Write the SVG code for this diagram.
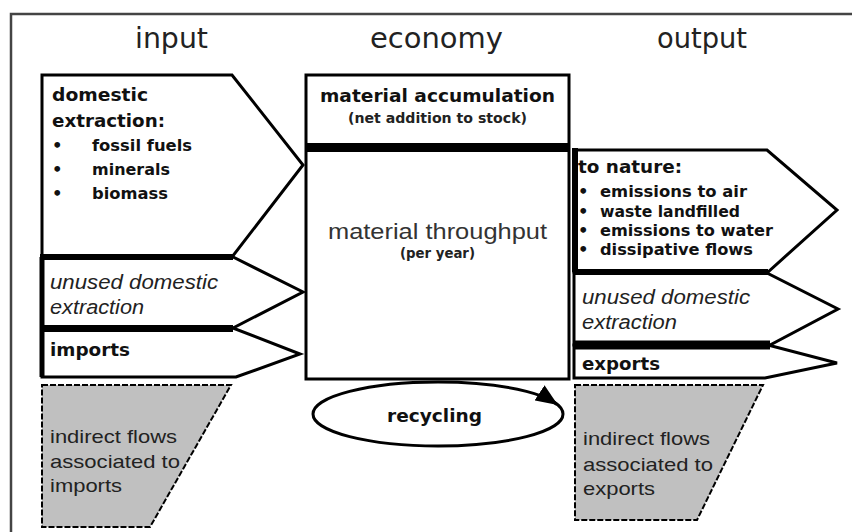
<svg xmlns="http://www.w3.org/2000/svg" width="852" height="532" viewBox="0 0 852 532">
<style>
.frame{stroke:#444;stroke-width:2.5;fill:none}
.box{fill:#fff;stroke:#000;stroke-width:3;stroke-linejoin:miter}
.sep{stroke:#000;fill:none}
.ind{fill:#c0c0c0;stroke:#000;stroke-width:2;stroke-dasharray:6 2}
.hd{font-family:"DejaVu Sans",Verdana,sans-serif;font-size:28px;fill:#222}
.b{font-family:"DejaVu Sans",Verdana,sans-serif;font-weight:bold;font-size:18.5px;fill:#111}
.bs{font-family:"DejaVu Sans",Verdana,sans-serif;font-weight:bold;font-size:16.4px;fill:#111}
.bx{font-family:"DejaVu Sans",Verdana,sans-serif;font-weight:bold;font-size:13.5px;fill:#222}
.it{font-family:"Liberation Sans",Arial,sans-serif;font-style:italic;font-size:20px;fill:#222}
.rg{font-family:"Liberation Sans",Arial,sans-serif;font-size:19px;fill:#222}
.big{font-family:"Liberation Sans",Arial,sans-serif;font-size:22.5px;fill:#333}
</style>
<defs>
<marker id="ah" viewBox="0 0 22 18" refX="21" refY="9" markerWidth="22" markerHeight="18" markerUnits="userSpaceOnUse" orient="auto">
<path d="M0,0 L22,9 L0,18 Z" fill="#000"/>
</marker>
</defs>
<g id="frame">
<path class="frame" d="M11,532 L11,14 L852,14"/>
</g>
<g id="headers">
<text class="hd" x="135" y="48" textLength="73" lengthAdjust="spacingAndGlyphs">input</text>
<text class="hd" x="370" y="48" textLength="133" lengthAdjust="spacingAndGlyphs">economy</text>
<text class="hd" x="657" y="48" textLength="90" lengthAdjust="spacingAndGlyphs">output</text>
</g>
<g id="domestic-extraction">
<polygon class="box" points="42,75 232,75 303,165 232,257 42,257"/>
<text class="b" x="52" y="101" textLength="96" lengthAdjust="spacingAndGlyphs">domestic</text>
<text class="b" x="52" y="127" textLength="113" lengthAdjust="spacingAndGlyphs">extraction:</text>
<text class="bs" x="52" y="151">•</text>
<text class="bs" x="92" y="151" textLength="100" lengthAdjust="spacingAndGlyphs">fossil fuels</text>
<text class="bs" x="52" y="175">•</text>
<text class="bs" x="92" y="175" textLength="78" lengthAdjust="spacingAndGlyphs">minerals</text>
<text class="bs" x="52" y="199">•</text>
<text class="bs" x="92" y="199" textLength="76" lengthAdjust="spacingAndGlyphs">biomass</text>
</g>
<g id="unused-domestic-in">
<polygon class="box" points="42,257 233,257 303,292 233,328 42,328"/>
<line class="sep" x1="40" y1="257" x2="233" y2="257" stroke-width="6"/>
<line class="sep" x1="42" y1="257" x2="42" y2="328" stroke-width="5"/>
<text class="it" x="50" y="289" textLength="168" lengthAdjust="spacingAndGlyphs">unused domestic</text>
<text class="it" x="50" y="314" textLength="94" lengthAdjust="spacingAndGlyphs">extraction</text>
</g>
<g id="imports">
<polygon class="box" points="42,328 233,328 300,354 236,377 42,377"/>
<line class="sep" x1="40" y1="328.5" x2="233" y2="328.5" stroke-width="7"/>
<line class="sep" x1="42" y1="328" x2="42" y2="377" stroke-width="5"/>
<text class="b" x="50" y="356" textLength="80" lengthAdjust="spacingAndGlyphs">imports</text>
</g>
<g id="indirect-imports">
<polygon class="ind" points="42,385 231,385 150,527 42,527"/>
<text class="rg" x="50" y="443" textLength="127" lengthAdjust="spacingAndGlyphs">indirect flows</text>
<text class="rg" x="50" y="468" textLength="130" lengthAdjust="spacingAndGlyphs">associated to</text>
<text class="rg" x="50" y="492" textLength="72" lengthAdjust="spacingAndGlyphs">imports</text>
</g>
<g id="economy">
<rect class="box" x="306" y="75" width="263" height="304"/>
<line class="sep" x1="306" y1="147.5" x2="569" y2="147.5" stroke-width="9"/>
<text class="b" x="320" y="102" textLength="235" lengthAdjust="spacingAndGlyphs">material accumulation</text>
<text class="bx" x="348" y="123" textLength="179" lengthAdjust="spacingAndGlyphs">(net addition to stock)</text>
<text class="big" x="328" y="239" textLength="219" lengthAdjust="spacingAndGlyphs">material throughput</text>
<text class="bx" x="400" y="258" font-size="13px" textLength="75" lengthAdjust="spacingAndGlyphs">(per year)</text>
</g>
<g id="recycling">
<ellipse cx="438" cy="414" rx="125" ry="32" fill="#fff" stroke="#000" stroke-width="3"/>
<text class="b" x="387" y="422" textLength="95" lengthAdjust="spacingAndGlyphs">recycling</text>
</g>
<g id="to-nature">
<polygon class="box" points="574,150 767,150 837,210 768,272 574,272"/>
<line class="sep" x1="575" y1="148" x2="575" y2="272" stroke-width="6"/>
<text class="b" x="578" y="173" textLength="104" lengthAdjust="spacingAndGlyphs">to nature:</text>
<text class="bs" x="578" y="197" font-size="15px">•</text>
<text class="bs" x="600" y="197" textLength="147" lengthAdjust="spacingAndGlyphs">emissions to air</text>
<text class="bs" x="578" y="217" font-size="15px">•</text>
<text class="bs" x="600" y="217" textLength="140" lengthAdjust="spacingAndGlyphs">waste landfilled</text>
<text class="bs" x="578" y="236" font-size="15px">•</text>
<text class="bs" x="600" y="236" textLength="173" lengthAdjust="spacingAndGlyphs">emissions to water</text>
<text class="bs" x="578" y="255" font-size="15px">•</text>
<text class="bs" x="600" y="255" textLength="153" lengthAdjust="spacingAndGlyphs">dissipative flows</text>
</g>
<g id="unused-domestic-out">
<polygon class="box" points="574,272 765,272 838,309 770,345 574,345"/>
<line class="sep" x1="573" y1="272" x2="768" y2="272" stroke-width="6"/>
<text class="it" x="582" y="304" textLength="168" lengthAdjust="spacingAndGlyphs">unused domestic</text>
<text class="it" x="582" y="329" textLength="95" lengthAdjust="spacingAndGlyphs">extraction</text>
</g>
<g id="exports">
<polygon class="box" points="574,345 768,345 837,363 765,378 574,378"/>
<line class="sep" x1="573" y1="345" x2="770" y2="345" stroke-width="9"/>
<text class="b" x="582" y="370" textLength="78" lengthAdjust="spacingAndGlyphs">exports</text>
</g>
<g id="indirect-exports">
<polygon class="ind" points="575,385 763,385 697,520 575,520"/>
<text class="rg" x="583" y="445" textLength="127" lengthAdjust="spacingAndGlyphs">indirect flows</text>
<text class="rg" x="583" y="471" textLength="130" lengthAdjust="spacingAndGlyphs">associated to</text>
<text class="rg" x="583" y="495" textLength="72" lengthAdjust="spacingAndGlyphs">exports</text>
</g>
<g id="connectors">
<path d="M551,400.5 L557,404.5" fill="none" stroke="#000" stroke-width="3" marker-end="url(#ah)"/>
</g>
</svg>
